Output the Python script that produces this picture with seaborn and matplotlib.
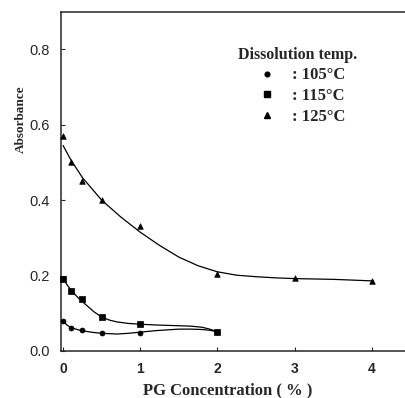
import matplotlib
matplotlib.use("Agg")
import matplotlib.pyplot as plt
import seaborn as sns
import pandas as pd
from matplotlib.lines import Line2D

# ---- measured points ----
pg_105 = [0, 0.1, 0.25, 0.5, 1, 2]
abs_105 = [0.080, 0.060, 0.055, 0.049, 0.049, 0.051]
pg_115 = [0, 0.1, 0.25, 0.5, 1, 2]
abs_115 = [0.190, 0.160, 0.138, 0.090, 0.071, 0.051]
pg_125 = [0, 0.1, 0.25, 0.5, 1, 2, 3, 4]
abs_125 = [0.570, 0.502, 0.451, 0.400, 0.332, 0.205, 0.194, 0.186]

# ---- fitted curves ----
fit_x_105 = [0, 0.05, 0.1, 0.2, 0.3, 0.4, 0.5, 0.6, 0.7, 0.85, 1.0, 1.2, 1.35, 1.5, 1.65, 1.8, 1.9, 2.0]
fit_y_105 = [0.080, 0.069, 0.062, 0.056, 0.052, 0.049, 0.047, 0.046, 0.045, 0.047, 0.050, 0.054, 0.056, 0.058, 0.058, 0.057, 0.055, 0.051]
fit_x_115 = [0, 0.05, 0.1, 0.2, 0.3, 0.4, 0.5, 0.6, 0.7, 0.85, 1.0, 1.2, 1.35, 1.5, 1.65, 1.8, 1.9, 2.0]
fit_y_115 = [0.193, 0.176, 0.162, 0.140, 0.122, 0.104, 0.090, 0.082, 0.077, 0.073, 0.071, 0.069, 0.068, 0.067, 0.066, 0.063, 0.058, 0.051]
fit_x_125 = [0, 0.1, 0.25, 0.5, 0.75, 1.0, 1.25, 1.5, 1.75, 2.0, 2.25, 2.5, 2.75, 3.0, 3.5, 4.0]
fit_y_125 = [0.545, 0.507, 0.460, 0.400, 0.355, 0.315, 0.280, 0.249, 0.226, 0.210, 0.201, 0.197, 0.194, 0.192, 0.190, 0.186]

temp_labels = [": 105\u00b0C", ": 115\u00b0C", ": 125\u00b0C"]
legend_title = "Dissolution temp."
x_label = "PG Concentration ( % )"
y_label = "Absorbance"
x_ticks = [0, 1, 2, 3, 4]
y_ticks = [0.0, 0.2, 0.4, 0.6, 0.8]

sns.set_style("ticks")
plt.rcParams["font.family"] = ["Liberation Sans", "DejaVu Sans"]

fig = plt.figure(figsize=(4.05, 3.98), dpi=100)
ax = fig.add_axes([61 / 405, 1 - 351 / 398, 1 - 61 / 405, 339 / 398])

markers = ["o", "s", "^"]
sizes = [13, 16, 16]
pts = [(pg_105, abs_105), (pg_115, abs_115), (pg_125, abs_125)]
fits = [(fit_x_105, fit_y_105), (fit_x_115, fit_y_115), (fit_x_125, fit_y_125)]

for (fx, fy) in fits:
    sns.lineplot(x=fx, y=fy, ax=ax, color="black", linewidth=0.9, sort=False, estimator=None)
for (px, py), m, s in zip(pts, markers, sizes):
    sns.scatterplot(x=px, y=py, ax=ax, marker=m, s=s, color="black", edgecolor="black",
                    linewidth=0.5, zorder=3, clip_on=False)

ax.set_xlim(-0.027, 4.43)
ax.set_ylim(0.0, 0.899)
ax.set_xticks(x_ticks)
ax.set_yticks(y_ticks)
ax.set_xticklabels([str(t) for t in x_ticks], fontweight="bold", fontsize=10)
ax.set_yticklabels([f"{t:.1f}" for t in y_ticks], fontsize=10.5)
ax.tick_params(direction="in", length=3, width=0.8, pad=8)
ax.spines["right"].set_visible(False)
for sp in ["left", "top", "bottom"]:
    ax.spines[sp].set_linewidth(1.1)

ax.set_xlabel(x_label, family="Liberation Serif", fontweight="bold", fontsize=12)
ax.set_ylabel(y_label, family="Liberation Serif", fontweight="bold", fontsize=9.5)
ax.xaxis.set_label_coords(0.486, -0.092)
ax.yaxis.set_label_coords(-0.1, 0.684)

handles = [Line2D([], [], marker=m, ls="", color="black", markersize=ms)
           for m, ms in zip(markers, [3.4, 3.8, 3.8])]
leg = ax.legend(handles, temp_labels, title=legend_title, loc="upper left",
                bbox_to_anchor=(0.491, 0.922), frameon=False, borderpad=0,
                handlelength=3.5, handletextpad=-0.25, labelspacing=0.28,
                alignment="left",
                prop={"family": "Liberation Serif", "weight": "bold", "size": 12},
                title_fontproperties={"family": "Liberation Serif", "weight": "bold", "size": 11.5})

fig.savefig("out.png", dpi=100)
